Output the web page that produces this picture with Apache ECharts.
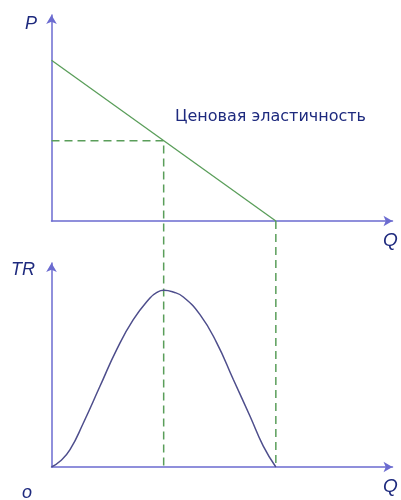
<!DOCTYPE html>
<html>
<head>
<meta charset="utf-8">
<script src="https://cdn.jsdelivr.net/npm/echarts@6/dist/echarts.min.js"></script>
<style>html,body{margin:0;padding:0;background:#fff}#c{width:401px;height:500px}</style>
</head>
<body>
<div id="c"></div>
<script>
// Demand (top panel): Q, P
var demandQ = [0, 2];
var demandP = [7.8, 0];
// Point of unit elasticity
var midQ = 1;
var midP = 3.9;
// TR curve (bottom panel)
var trQ = [0, 0.076, 0.165, 0.284, 0.432, 0.581, 0.729, 0.878, 0.938, 1, 1.086, 1.175, 1.324, 1.473, 1.621, 1.77, 1.888, 2];
var trV = [0, 0.126, 0.382, 0.971, 1.78, 2.59, 3.25, 3.73, 3.85, 3.9, 3.86, 3.75, 3.36, 2.74, 1.93, 1.12, 0.46, 0];
// Labels
var labelP = 'P', labelTR = 'TR', labelQ = 'Q', labelO = 'o';
var labelNote = 'Ценовая эластичность';

var L = 51.5, W = 341, xMax = 3.04;
var topT = 15, topH = 206, topMax = 10;
var botT = 263, botH = 204, botMax = 4.5;
// value on the top P-scale that lies at the bottom axis level
var yLow = -((botT + botH) - (topT + topH)) / topH * topMax;

var axisColor = '#6b6bd0';
var green = '#5a9e5a';
var navy = '#1e2a7e';

function xAx(i) {
  return { gridIndex: i, type: 'value', min: 0, max: xMax,
    axisLine: { show: true, onZero: false, symbol: ['none', 'arrow'], symbolSize: [8, 9],
      lineStyle: { color: axisColor, width: 1.5 } },
    axisTick: { show: false }, axisLabel: { show: false }, splitLine: { show: false } };
}
function yAx(i, mx) {
  return { gridIndex: i, type: 'value', min: 0, max: mx,
    axisLine: { show: true, onZero: false, symbol: ['none', 'arrow'], symbolSize: [8, 9],
      lineStyle: { color: axisColor, width: 1.5 } },
    axisTick: { show: false }, axisLabel: { show: false }, splitLine: { show: false } };
}
function txt(s, x, y, size, italic, fam) {
  return { type: 'text', left: x, top: y, style: { text: s, fill: navy, fontSize: size,
    fontStyle: italic ? 'italic' : 'normal', fontFamily: fam || 'Liberation Sans' } };
}

var chart = echarts.init(document.getElementById('c'), null, { renderer: 'canvas' });
chart.setOption({
  animation: false,
  backgroundColor: '#ffffff',
  grid: [
    { left: L, top: topT, width: W, height: topH },
    { left: L, top: botT, width: W, height: botH }
  ],
  xAxis: [xAx(0), xAx(1)],
  yAxis: [yAx(0, topMax), yAx(1, botMax)],
  series: [
    { type: 'line', xAxisIndex: 0, yAxisIndex: 0, symbol: 'none', clip: false,
      data: demandQ.map(function (q, i) { return [q, demandP[i]]; }),
      lineStyle: { color: green, width: 1.3 } },
    { type: 'line', xAxisIndex: 0, yAxisIndex: 0, symbol: 'none', clip: false,
      data: [[0, midP], [midQ, midP], [midQ, yLow]],
      lineStyle: { color: green, width: 1.5, type: [8, 5] } },
    { type: 'line', xAxisIndex: 0, yAxisIndex: 0, symbol: 'none', clip: false,
      data: [[demandQ[1], demandP[1]], [demandQ[1], yLow]],
      lineStyle: { color: green, width: 1.5, type: [8, 5] } },
    { type: 'line', xAxisIndex: 1, yAxisIndex: 1, symbol: 'none', smooth: 0.5,
      data: trQ.map(function (q, i) { return [q, trV[i]]; }),
      lineStyle: { color: '#4e4e8c', width: 1.5 } }
  ],
  graphic: [
    txt(labelP, 25, 15, 18, true),
    txt(labelTR, 11, 261, 18, true),
    txt(labelQ, 383, 231, 19, true),
    txt(labelQ, 383, 477, 19, true),
    txt(labelO, 22, 484, 18, true),
    txt(labelNote, 175, 109, 16, false, 'DejaVu Sans')
  ]
});
</script>
</body>
</html>
